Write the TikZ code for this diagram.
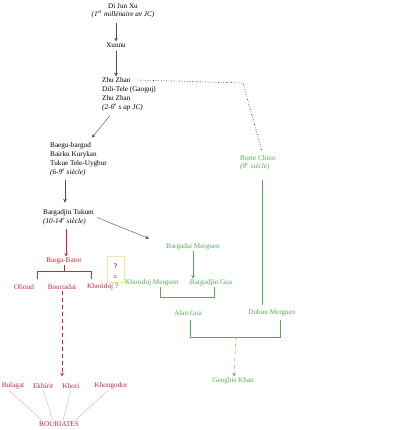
\documentclass[tikz,border=0pt]{standalone}
\usepackage{fontspec}
\setmainfont{Liberation Serif}
\usetikzlibrary{arrows.meta,calc}

\definecolor{rouge}{RGB}{205,35,60}
\definecolor{vert}{RGB}{85,170,85}
\definecolor{jaune}{RGB}{240,230,160}

\tikzset{
  lbl/.style={inner sep=1pt, font=\fontsize{7.2}{9}\selectfont},
  blk/.style={lbl, align=left, anchor=north west, inner sep=0pt},
  arr/.style={-{Stealth[length=3.5pt,width=3.5pt]}, black!70, thin},
}

\begin{document}
\begin{tikzpicture}[x=1pt, y=-1pt]
  \useasboundingbox (0,0) rectangle (417,430);

  % Lignee ancienne (noir)
  \node[lbl] (dijun) at (123,6) {Di Jun Xu};
  \node[lbl, font=\fontsize{7.2}{9}\selectfont\itshape] (dijunt) at (123,15) {(1\textsuperscript{er} millénaire av JC)};
  \node[lbl] (xunnu) at (116,45) {Xunnu};
  \node[lbl, anchor=west] (zhu) at (101,80) {Zhu Zhan};
  \node[blk] (zhub) at (102,86.5) {Dili-Tele (Gaoguj)\\Zhu Zhan\\\textit{(2-6\textsuperscript{e} s ap JC)}};
  \node[blk] (baegu) at (50,142.5) {Baegu-bargud\\Bairku Kurykan\\Tukue Tele-Uygbur\\\textit{(6-9\textsuperscript{e} siècle)}};
  \node[blk] (tukum) at (43,209.5) {Bargadjin Tukum\\\textit{(10-14\textsuperscript{e} siècle)}};

  \draw[arr] ([yshift=-3pt]xunnu.north |- dijunt.south) -- (xunnu.north);
  \draw[arr] ([yshift=-2pt]xunnu.south) -- (xunnu.south |- zhu.north);
  \draw[arr] ([xshift=8pt,yshift=-4pt]zhub.south west) -- ([xshift=42pt,yshift=5pt]baegu.north west);
  \draw[arr] ([xshift=15pt,yshift=-4pt]baegu.south west) coordinate (bs) -- ([yshift=7pt]bs |- tukum.north);

  % Branche bouriate (rouge)
  \node[lbl, text=rouge] (bator) at (64,261) {Barga-Bator};
  \node[lbl, text=rouge] (olioud) at (24,287) {Olioud};
  \node[lbl, text=rouge] (bouriadai) at (62,287) {Bouriadai};
  \node[lbl, text=rouge, anchor=west] (khoridoj) at (86,287) {Khoridoj ?};
  \draw[-{Stealth[length=3.5pt,width=3.5pt]}, rouge, thin] ([xshift=23pt,yshift=-4pt]tukum.south west) -- ([xshift=23pt]tukum.south west |- bator.north);
  \draw[rouge, thin] (bator.south) -- ++(0,6) coordinate (bb);
  \draw[rouge, thin] ([xshift=-27pt]bb) -- ([xshift=27pt]bb);
  \draw[rouge, thin] ([xshift=-27pt]bb) -- ++(0,8);
  \draw[rouge, thin] ([xshift=27pt]bb) -- ++(0,8);

  \node[lbl, text=rouge] (bulagat) at (13,386) {Bulagat};
  \node[lbl, text=rouge] (ekhirit) at (43,386) {Ekhirit};
  \node[lbl, text=rouge] (khori) at (71,386) {Khori};
  \node[lbl, text=rouge] (khongodor) at (111,386) {Khongodor};
  \node[lbl, text=rouge] (bouriates) at (59,424) {BOURIATES};
  \draw[-{Stealth[length=3.5pt,width=3.5pt]}, rouge, thin, dash pattern=on 4pt off 3pt] (bouriadai.south) -- ([yshift=6pt]bouriadai.south |- ekhirit.north);
  \draw[rouge!60, very thin] ([xshift=-4pt]bulagat.south) -- ([xshift=-17pt]bouriates.north);
  \draw[rouge!60, very thin] (ekhirit.south) -- ([xshift=-6pt]bouriates.north);
  \draw[rouge!60, very thin] (khori.south) -- ([xshift=4pt]bouriates.north);
  \draw[rouge!60, very thin] ([xshift=-3pt]khongodor.south) -- ([xshift=16pt]bouriates.north);

  % Point d'interrogation
  \node[lbl, draw=jaune, thick, minimum width=17pt, minimum height=26pt] (doute) at (115.5,269.5) {};
  \node[lbl] (qm) at (115.5,266) {?};
  \node[lbl] (eq) at (115.5,278) {=};

  % Lignee de Gengis Khan (vert)
  \node[lbl, text=vert, anchor=west] (borte) at (239,158) {Borte Chino};
  \node[lbl, text=vert, anchor=west, font=\fontsize{7.2}{9}\selectfont\itshape] (bortet) at (239,167) {(8\textsuperscript{e} siècle)};
  \node[lbl, text=vert] (bargadai) at (193,247) {Bargadai Merguen};
  \node[lbl, text=vert] (khorm) at (152,283) {Khoridoj Merguen};
  \node[lbl, text=vert] (bargoa) at (211,283) {Bargadjin Goa};
  \node[lbl, text=vert] (alan) at (188,313) {Alan Goa};
  \node[lbl, text=vert] (dobun) at (272,313) {Dobun Merguen};
  \node[lbl, text=vert] (genghis) at (233,381) {Genghis Khan};

  \draw[black, dotted, line width=0.6pt] (zhu.east) ++(6,0) -- ([yshift=-3pt]zhu.east -| 243,0) -- ([xshift=23pt,yshift=3pt]borte.north west);
  \draw[arr] ([xshift=54pt,yshift=-8pt]tukum.north west) -- ([xshift=-16pt,yshift=4pt]bargadai.north west);
  \draw[-{Stealth[length=3.5pt,width=3.5pt]}, vert, thin] (bargadai.south) -- (bargadai.south |- bargoa.north);
  \draw[vert, thin] ([xshift=23pt,yshift=-8pt]bortet.south west) -- ([xshift=23pt,yshift=4pt]bortet.south west |- dobun.north);
  \draw[vert, thin] ([xshift=8pt]khorm.south) -- ++(0,10) -| ([xshift=3pt]bargoa.south);
  \draw[vert, thin] ([xshift=2pt,yshift=-3pt]alan.south) -- ++(0,17) coordinate (ad) -| ([xshift=8pt,yshift=-3pt]dobun.south);
  \coordinate (gk) at ($(ad)!0.5!(ad -| dobun.south)$);
  \draw[-{Stealth[length=3.5pt,width=3.5pt]}, vert, thin, dash pattern=on 4pt off 3pt] ([xshift=5pt]gk) -- ([xshift=1pt]genghis.north);
\end{tikzpicture}
\end{document}
